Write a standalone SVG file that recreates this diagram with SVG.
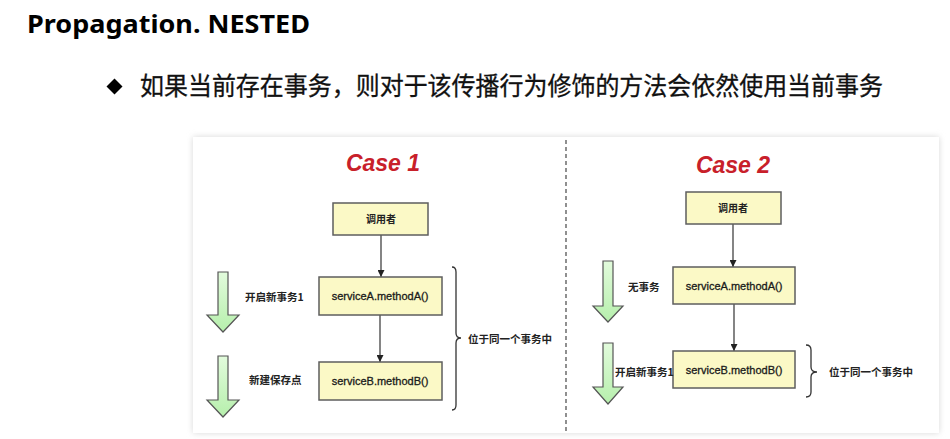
<svg xmlns="http://www.w3.org/2000/svg" width="950" height="439" viewBox="0 0 950 439">
<defs>
<filter id="shadow" x="-5%" y="-5%" width="110%" height="110%">
<feGaussianBlur stdDeviation="3"/>
</filter>
<linearGradient id="green" x1="0" y1="0" x2="0" y2="1">
<stop offset="0" stop-color="#e2fbdc"/>
<stop offset="1" stop-color="#b6efac"/>
</linearGradient>
<marker id="arr" viewBox="0 0 10 10" refX="10" refY="5" markerWidth="7" markerHeight="7" markerUnits="userSpaceOnUse" orient="auto">
<path d="M0,0 L10,5 L0,10 Z" fill="#222"/>
</marker>
</defs>
<style>
.title{font-family:"Noto Sans","Open Sans",sans-serif;font-weight:bold;font-size:25px;fill:#000}
.bullet{font-family:"Noto Sans CJK SC",sans-serif;font-size:25px;fill:#111;stroke:#111;stroke-width:0.3}
.case{font-family:"Liberation Sans",Arial,sans-serif;font-style:italic;font-weight:bold;font-size:23px;fill:#c8202a;text-anchor:middle}
.box{fill:#fbf9c6;stroke:#5e5e5e;stroke-width:1.5}
.btxt{font-family:"Liberation Sans",Arial,sans-serif;font-size:11px;fill:#1a1a1a;stroke:#1a1a1a;stroke-width:0.3;text-anchor:middle}
.ctxt{font-family:"Noto Sans CJK SC",sans-serif;font-weight:bold;font-size:10px;fill:#222;text-anchor:middle}
.lbl{font-family:"Noto Sans CJK SC",sans-serif;font-weight:bold;font-size:10.5px;fill:#222}
.conn{stroke:#333;stroke-width:1.2;fill:none}
.brace{stroke:#333;stroke-width:1.3;fill:none}
.garrow{fill:url(#green);stroke:#555;stroke-width:1.2}
</style>
<rect x="0" y="0" width="950" height="439" fill="#ffffff"/>
<text class="title" x="27" y="33" textLength="283" lengthAdjust="spacingAndGlyphs">Propagation. NESTED</text>
<path d="M114.5,78.5 L122.5,86.5 L114.5,94.5 L106.5,86.5 Z" fill="#000"/>
<text class="bullet" x="140" y="95" textLength="743" lengthAdjust="spacingAndGlyphs">如果当前存在事务，则对于该传播行为修饰的方法会依然使用当前事务</text>

<rect x="193" y="137" width="746" height="296" fill="#d8d8d8" filter="url(#shadow)"/>
<rect x="193" y="137" width="746" height="296" fill="#ffffff"/>
<line x1="566" y1="140" x2="566" y2="433" stroke="#555" stroke-width="1.3" stroke-dasharray="4,3"/>

<text class="case" x="383" y="171">Case 1</text>
<text class="case" x="733" y="173">Case 2</text>

<g id="connectors">
<line class="conn" x1="381" y1="235" x2="381" y2="277" marker-end="url(#arr)"/>
<line class="conn" x1="380" y1="315" x2="380" y2="362" marker-end="url(#arr)"/>
<line class="conn" x1="733" y1="224" x2="733" y2="267" marker-end="url(#arr)"/>
<line class="conn" x1="734" y1="304" x2="734" y2="351" marker-end="url(#arr)"/>
</g>

<g id="case1-caller"><rect class="box" x="333" y="203" width="95" height="32"/><text class="ctxt" x="381" y="223">调用者</text></g>
<g id="case1-serviceA"><rect class="box" x="319" y="277" width="123" height="38"/><text class="btxt" x="380" y="300">serviceA.methodA()</text></g>
<g id="case1-serviceB"><rect class="box" x="319" y="362" width="123" height="38"/><text class="btxt" x="380" y="385">serviceB.methodB()</text></g>

<g id="case1-arrow1"><path class="garrow" d="M218,272 L228,272 L228,315 L239,315 L223,332 L207,315 L218,315 Z"/><text class="lbl" x="245" y="301">开启新事务1</text></g>
<g id="case1-arrow2"><path class="garrow" d="M218,356 L228,356 L228,400 L239,400 L223,417 L207,400 L218,400 Z"/><text class="lbl" x="249" y="384">新建保存点</text></g>
<g id="case1-brace"><path class="brace" d="M452,267 Q456,267 456,272 L456,333 Q456,338 461,338 Q456,338 456,343 L456,405 Q456,410 452,410"/><text class="lbl" x="468" y="343">位于同一个事务中</text></g>

<g id="case2-caller"><rect class="box" x="686" y="192" width="95" height="32"/><text class="ctxt" x="733" y="212">调用者</text></g>
<g id="case2-serviceA"><rect class="box" x="673" y="267" width="122" height="37"/><text class="btxt" x="734" y="290">serviceA.methodA()</text></g>
<g id="case2-serviceB"><rect class="box" x="673" y="351" width="122" height="37"/><text class="btxt" x="734" y="374">serviceB.methodB()</text></g>

<g id="case2-arrow1"><path class="garrow" d="M603,261 L613,261 L613,306 L623,306 L608,322 L593,306 L603,306 Z"/><text class="lbl" x="628" y="291">无事务</text></g>
<g id="case2-arrow2"><path class="garrow" d="M603,343 L613,343 L613,387 L623,387 L608,404 L593,387 L603,387 Z"/><text class="lbl" x="615" y="376">开启新事务1</text></g>
<g id="case2-brace"><path class="brace" d="M806,345 Q811,345 811,350 L811,367 Q811,372 817,372 Q811,372 811,377 L811,392 Q811,397 806,397"/><text class="lbl" x="829" y="376">位于同一个事务中</text></g>
</svg>
